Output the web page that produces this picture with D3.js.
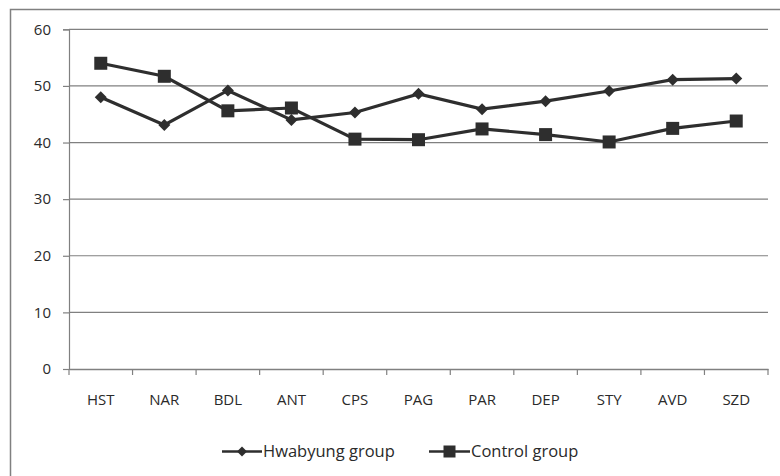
<!DOCTYPE html>
<html><head><meta charset="utf-8">
<script src="https://cdn.jsdelivr.net/npm/d3@7"></script>
<style>body{margin:0;background:#fff}svg{display:block}text{font-family:"Open Sans",sans-serif;fill:#2a2a2a}</style>
</head><body><svg id="c" width="780" height="476"></svg>
<script>
const categories = ["HST","NAR","BDL","ANT","CPS","PAG","PAR","DEP","STY","AVD","SZD"];
const hwabyung = [48.0,43.1,49.2,44.0,45.3,48.6,45.9,47.3,49.1,51.1,51.3];
const control = [54.0,51.7,45.6,46.1,40.6,40.5,42.4,41.4,40.1,42.5,43.8];
const yTicks = [0,10,20,30,40,50,60];
const seriesNames = ["Hwabyung group","Control group"];

const svg = d3.select("#c");
const L = 69, R = 768, T = 29.3, B = 369;
const x = d3.scaleBand().domain(categories).range([L,R]);
const y = d3.scaleLinear().domain([0,60]).range([B,T]);
const ink = "#2e2e2e";
const txt = "#2a2a2a";

// outer frame
svg.append("rect").attr("x",10.5).attr("y",9.5).attr("width",800).attr("height",500)
  .attr("fill","none").attr("stroke","#808080").attr("stroke-width",1.5);

// gridlines
svg.append("g").selectAll("line").data(yTicks.filter(d=>d>0)).join("line")
  .attr("x1",L).attr("x2",R).attr("y1",d=>y(d)).attr("y2",d=>y(d))
  .attr("stroke","#808080").attr("stroke-width",1.2);

// y axis
const ya = svg.append("g").attr("transform",`translate(${L},0)`)
  .call(d3.axisLeft(y).tickValues(yTicks).tickSize(6).tickPadding(12));
ya.select(".domain").attr("stroke","#808080").attr("stroke-width",1.2);
ya.selectAll(".tick line").attr("stroke","#808080").attr("stroke-width",1.2);
ya.selectAll("text").attr("font-size",15).attr("fill",txt).style("font-family","'Open Sans',sans-serif");

// x axis
const xa = svg.append("g").attr("transform",`translate(0,${B})`)
  .call(d3.axisBottom(x).tickSize(0).tickPadding(25));
xa.select(".domain").attr("stroke","#808080").attr("stroke-width",1.5);
xa.selectAll("text").attr("font-size",15).attr("fill",txt).style("font-family","'Open Sans',sans-serif");
// category boundary ticks
const bounds = categories.map(c=>x(c)).concat([R]);
svg.append("g").selectAll("line").data(bounds).join("line")
  .attr("x1",d=>d).attr("x2",d=>d).attr("y1",B).attr("y2",B+6)
  .attr("stroke","#808080").attr("stroke-width",1.2);

const cx = c => x(c) + x.bandwidth()/2;
const line = d3.line().x((d,i)=>cx(categories[i])).y(d=>y(d));
const diamond = (s) => `M0,${-s}L${s},0L0,${s}L${-s},0Z`;

svg.append("path").datum(hwabyung).attr("d",line).attr("fill","none").attr("stroke",ink).attr("stroke-width",3.2);
svg.append("path").datum(control).attr("d",line).attr("fill","none").attr("stroke",ink).attr("stroke-width",3.2);

svg.append("g").selectAll("path").data(hwabyung).join("path")
  .attr("d",diamond(6)).attr("fill",ink)
  .attr("transform",(d,i)=>`translate(${cx(categories[i])},${y(d)})`);
svg.append("g").selectAll("rect").data(control).join("rect")
  .attr("x",(d,i)=>cx(categories[i])-6.5).attr("y",d=>y(d)-6.5)
  .attr("width",13).attr("height",13).attr("fill",ink);

// legend
const ly = 451.5;
const lg = svg.append("g");
lg.append("line").attr("x1",222).attr("x2",262).attr("y1",ly).attr("y2",ly).attr("stroke",ink).attr("stroke-width",2.5);
lg.append("path").attr("d",diamond(5)).attr("fill",ink).attr("transform",`translate(242,${ly})`);
lg.append("text").attr("x",263).attr("y",ly).attr("dy","0.35em").attr("font-size",16.5).text(seriesNames[0]);
lg.append("line").attr("x1",429).attr("x2",470).attr("y1",ly).attr("y2",ly).attr("stroke",ink).attr("stroke-width",2.5);
lg.append("rect").attr("x",443.5).attr("y",ly-6).attr("width",12).attr("height",12).attr("fill",ink);
lg.append("text").attr("x",471).attr("y",ly).attr("dy","0.35em").attr("font-size",16.5).text(seriesNames[1]);
</script></body></html>
